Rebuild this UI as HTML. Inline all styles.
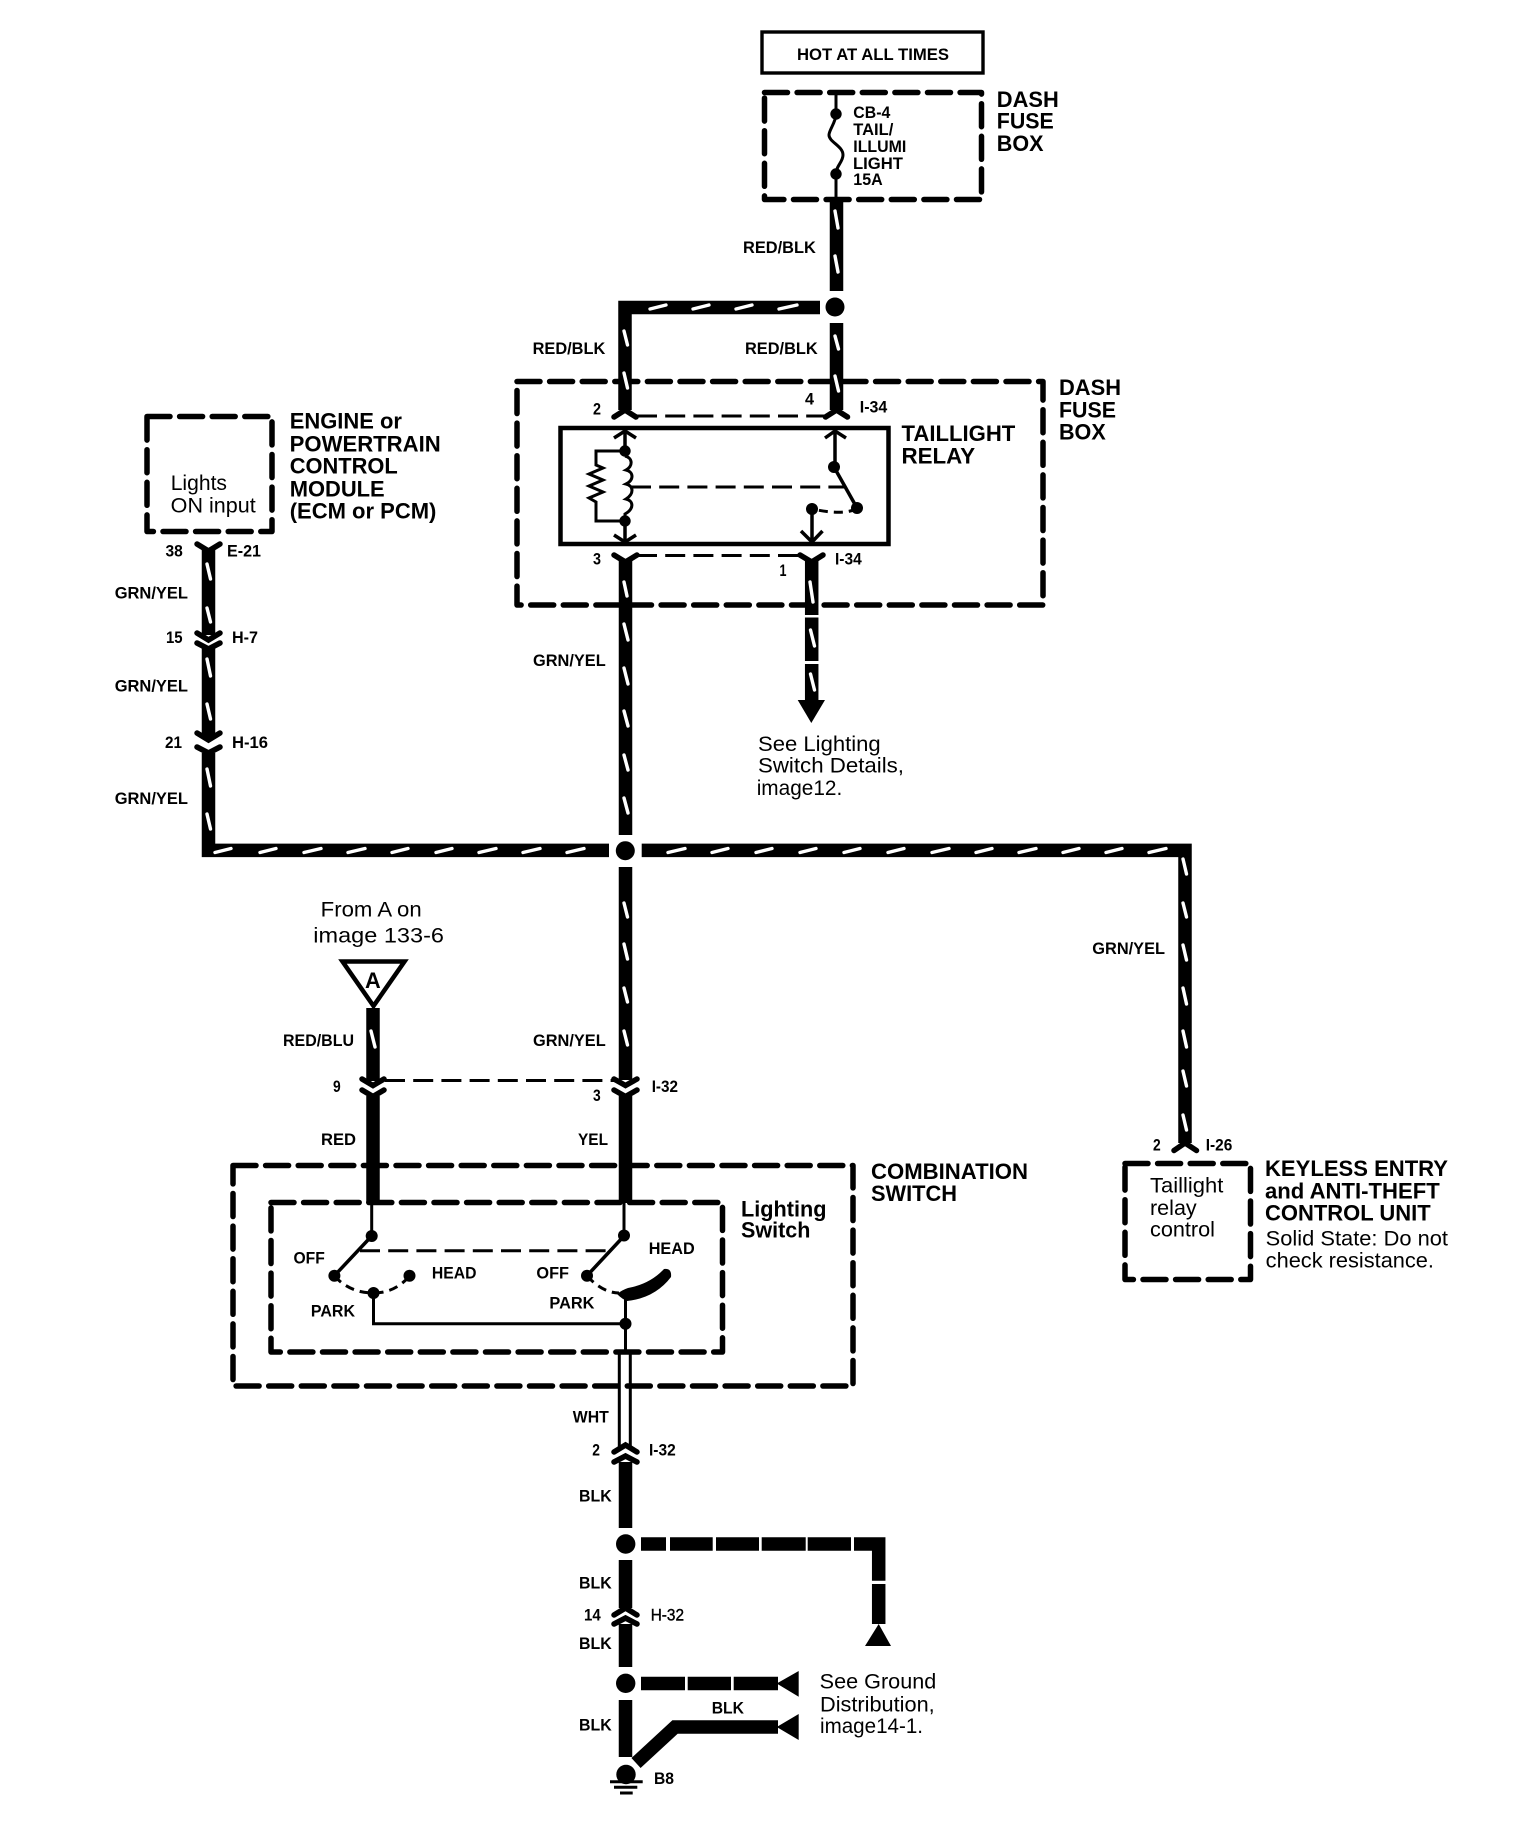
<!DOCTYPE html>
<html lang="en">
<head>
<meta charset="utf-8">
<title>Taillight Relay Diagram</title>
<style>
html,body{margin:0;padding:0;background:#fff;}
svg{display:block;}
text{font-family:"Liberation Sans",Arial,sans-serif;fill:#000;}
.b{font-weight:bold;font-size:22px;}
.s{font-weight:bold;font-size:16.5px;}
.r{font-size:21.5px;}
</style>
</head>
<body>
<svg xmlns="http://www.w3.org/2000/svg" width="1536" height="1828" viewBox="0 0 1536 1828">
<rect width="1536" height="1828" fill="#fff"/>

<!-- dashed boxes -->
<g fill="none" stroke="#000" stroke-width="5.5" stroke-linecap="round" stroke-linejoin="round" stroke-dasharray="23 9.6">
<path d="M764.5,92.5H981.5V199.5H764.5Z"/>
<path d="M517,381.5H1043V605H517Z"/>
<path d="M147,416.5H272V531.5H147Z"/>
<path d="M233,1165.5H853V1386H233Z"/>
<path d="M271,1202.5H722.5V1352H271Z"/>
<path d="M1125,1163.5H1250.5V1279.5H1125Z"/>
</g>

<!-- hot box + relay box -->
<rect x="762" y="32" width="221" height="41" fill="#fff" stroke="#000" stroke-width="3.4"/>
<rect x="560.5" y="428" width="328" height="116" fill="none" stroke="#000" stroke-width="4.5"/>

<!-- thin dashed connector shells and mechanical links -->
<g fill="none" stroke="#000" stroke-width="3" stroke-dasharray="20 8.2">
<path d="M637,416H826"/>
<path d="M637,555.5H800"/>
<path d="M631,487H844"/>
<path d="M385,1080.5H618"/>
<path d="M360,1250.7H612"/>
</g>

<!-- thick wires -->
<g fill="none" stroke="#000" stroke-width="13.5" stroke-linejoin="miter">
<path d="M836.5,200V291"/>
<path d="M820,307.5H625V410"/>
<path d="M836.5,323V410"/>
<path d="M625.5,560V835"/>
<path d="M625.5,867V1080"/>
<path d="M811.7,560V615M811.7,617.5V661M811.7,664V701"/>
<path d="M208.5,550V635"/>
<path d="M208.5,648V738"/>
<path d="M208.5,753V850.4H609"/>
<path d="M641.7,850.4H1185V1143"/>
<path d="M373,1008V1081"/>
<path d="M373,1096V1203"/>
<path d="M625.5,1096V1203"/>
<path d="M625.5,1462V1528"/>
<path d="M625.5,1560V1608"/>
<path d="M625.5,1624V1667"/>
<path d="M625.5,1700V1757"/>
<path d="M641,1544H666M670,1544H712.7M716,1544H759M761.7,1544H805.7M807.7,1544H851M854,1544H878.7V1580.7M878.7,1584V1624"/>
<path d="M641,1683.5H685M687.7,1683.5H731M733.7,1683.5H778"/>
<path d="M636,1763L675,1727H778"/>
</g>

<!-- white wire -->
<g fill="none" stroke="#000" stroke-width="3">
<path d="M619.3,1353V1448M630.3,1353V1448"/>
</g>

<!-- white tracer ticks -->
<g fill="none" stroke="#fff" stroke-width="3.4" stroke-linecap="round">
<path d="M835,211L838,228M835,256L838,272"/>
<path d="M650,309L666,305M693,309L709,305M736,309L752,305M779,309L797,305"/>
<path d="M624,331L627.5,345M624,373L627.5,388"/>
<path d="M835,336L838.5,349M835,376L838.5,391"/>
<path d="M624,582L627,596"/>
<path d="M624,624L628,640M624,668L628,684M624,711L628,726M624,755L628,770M624,798L628,813"/>
<path d="M810,582L813,602M810.5,630L814.5,646M810.5,674L814.5,690"/>
<path d="M207,564L210.5,579M207,608L210.5,622M207,659L210.5,676M207,704L210.5,719M207,769L210.5,786M207,814L210.5,829"/>
<path d="M215,852.5L231,848.5M260,852.5L276,848.5M304,852.5L321,848.5M348,852.5L365,848.5M392,852.5L408,848.5M436,852.5L452,848.5M479,852.5L496,848.5M523,852.5L540,848.5M567,852.5L584,848.5"/>
<path d="M668,852.5L685,848.5M712,852.5L728,848.5M756,852.5L772,848.5M800,852.5L816,848.5M844,852.5L860,848.5M888,852.5L904,848.5M932,852.5L949,848.5M976,852.5L992,848.5M1019,852.5L1036,848.5M1063,852.5L1079,848.5M1106,852.5L1122,848.5M1149,852.5L1166,848.5"/>
<path d="M1183,859L1186.5,874M1183,903L1186.5,917M1183,945L1186.5,960M1183,988L1186.5,1004M1183,1031L1186.5,1047M1183,1071L1186.5,1086M1183,1115L1186.5,1130"/>
<path d="M624,903L627.5,917M624,944L627.5,959M624,988L627.5,1002M624,1031L627.5,1045"/>
<path d="M371,1031L375,1047"/>
</g>

<!-- connectors: V and inverted V -->
<g fill="none" stroke="#000" stroke-width="5.5" stroke-linecap="round" stroke-linejoin="miter">
<path d="M614,417L625,410L636,417"/>
<path d="M825.5,417L836.5,410L847.5,417"/>
<path d="M614,555L625.5,562L637,555"/>
<path d="M800,555L811.7,562L823,555"/>
<path d="M197,544L208.5,551L220,544"/>
<path d="M197,633L208.5,640L220,633"/>
<path d="M197,643L208.5,649L220,643"/>
<path d="M197,733L208.5,740L220,733"/>
<path d="M197,747L208.5,753L220,747"/>
<path d="M362,1079L373,1085.5L384,1079"/>
<path d="M362,1090L373,1096.5L384,1090"/>
<path d="M614,1079L625.5,1085.5L637,1079"/>
<path d="M614,1090L625.5,1096.5L637,1090"/>
<path d="M614,1452L625.5,1445L637,1452"/>
<path d="M614,1462L625.5,1456L637,1462"/>
<path d="M614,1615L625.5,1608L637,1615"/>
<path d="M614,1624L625.5,1618L637,1624"/>
<path d="M1174,1150.5L1185,1143L1196.5,1150.5"/>
</g>

<!-- junction dots -->
<g fill="#000">
<circle cx="835" cy="307" r="9.5"/>
<circle cx="625.3" cy="850.7" r="9.5"/>
<circle cx="625.7" cy="1544" r="9.7"/>
<circle cx="625.7" cy="1683.3" r="9.7"/>
<circle cx="626" cy="1774.5" r="9.7"/>
<circle cx="836" cy="114" r="5.7"/>
<circle cx="836" cy="174" r="5.7"/>
<circle cx="625" cy="451" r="5.7"/>
<circle cx="625" cy="521" r="5.7"/>
<circle cx="834" cy="467" r="6"/>
<circle cx="857" cy="508" r="6"/>
<circle cx="812" cy="509" r="6"/>
<circle cx="371.7" cy="1236" r="6"/>
<circle cx="334.4" cy="1275.7" r="6"/>
<circle cx="409.5" cy="1275.7" r="6"/>
<circle cx="373.5" cy="1293" r="6"/>
<circle cx="624" cy="1235.5" r="6"/>
<circle cx="587" cy="1275.7" r="6"/>
<circle cx="625.5" cy="1323.7" r="6"/>
</g>

<!-- arrowheads -->
<g fill="#000">
<path d="M797.7,700H825L811.3,723Z"/>
<path d="M878.7,1624L891,1646H865Z"/>
<path d="M776.7,1683.5L798.7,1671V1696.7Z"/>
<path d="M776.7,1727L798.7,1714V1740Z"/>
</g>

<!-- thin wiring -->
<g fill="none" stroke="#000" stroke-width="3">
<path d="M836,90V114C836,122 829,130 829,135C829,142 843,146 843,155C843,162 836,166 836,174V202"/>
<path d="M625,456c8,2 8,10 1,14c8,2 8,10 0,14c8,2 8,10 0,15c8,2 8,10 -1,15V535"/>
<path d="M625,451H596V465L603,468L589,474L603,480L589,486L603,492L589,498L596,502V521H625"/>
<path d="M371.7,1203V1236M624,1203V1236"/>
<path d="M373.5,1293V1323.7H625.5M625.5,1297V1353"/>
</g>
<g fill="none" stroke="#000" stroke-width="3.5" stroke-linejoin="miter">
<path d="M625,431V451M625,521V542"/>
<path d="M614,438L625,431L636,438M614,535L625,542L636,535"/>
<path d="M835,431V467M825,438L835,431L846,438"/>
<path d="M812,509V542M801,531L812,542L822.5,531"/>
<path d="M834,467L857,508"/>
<path d="M371.7,1236L334.4,1275.7M624,1236L587,1275.7"/>
</g>
<g fill="none" stroke="#000" stroke-width="3" stroke-dasharray="9 6">
<path d="M857,508Q846,516 812,509"/>
<path d="M334.4,1276Q350,1293 373.5,1293Q395,1293 409.5,1276"/>
<path d="M587,1276Q603,1293 619,1293"/>
</g>
<path d="M617,1294Q622,1290 628,1288Q650,1284 664,1269Q672,1268 671,1277Q655,1298 627,1301Q622,1299 617,1294Z" fill="#000"/>

<!-- off-page triangle -->
<path d="M342.5,961.5H404.5L373.5,1006Z" fill="#fff" stroke="#000" stroke-width="4.5" stroke-linejoin="miter"/>
<!-- ground -->
<path d="M610,1781.7H642.7M614,1787.2H637.3M620,1793H632.7" fill="none" stroke="#000" stroke-width="3"/>

<g transform="translate(-1,0)">
<text x="366" y="988" class="b" textLength="15.7" lengthAdjust="spacingAndGlyphs">A</text>
<!-- large bold labels -->
<text x="798" y="60" class="s" textLength="152" lengthAdjust="spacingAndGlyphs">HOT AT ALL TIMES</text>
<text x="997.8" y="106.8" class="b" textLength="62" lengthAdjust="spacingAndGlyphs">DASH</text>
<text x="997.8" y="128.5" class="b" textLength="57" lengthAdjust="spacingAndGlyphs">FUSE</text>
<text x="997.8" y="151" class="b" textLength="46.7" lengthAdjust="spacingAndGlyphs">BOX</text>
<text x="1060" y="395" class="b" textLength="62" lengthAdjust="spacingAndGlyphs">DASH</text>
<text x="1060" y="417.5" class="b" textLength="57" lengthAdjust="spacingAndGlyphs">FUSE</text>
<text x="1060" y="439.7" class="b" textLength="46.7" lengthAdjust="spacingAndGlyphs">BOX</text>
<text x="902.5" y="441" class="b" textLength="113.8" lengthAdjust="spacingAndGlyphs">TAILLIGHT</text>
<text x="902.5" y="463.4" class="b" textLength="73.6" lengthAdjust="spacingAndGlyphs">RELAY</text>
<text x="290.7" y="428.7" class="b" textLength="112.3" lengthAdjust="spacingAndGlyphs">ENGINE or</text>
<text x="290.7" y="451.7" class="b" textLength="151" lengthAdjust="spacingAndGlyphs">POWERTRAIN</text>
<text x="290.7" y="473.3" class="b" textLength="108" lengthAdjust="spacingAndGlyphs">CONTROL</text>
<text x="290.7" y="496.7" class="b" textLength="95" lengthAdjust="spacingAndGlyphs">MODULE</text>
<text x="290.7" y="518.3" class="b" textLength="146.7" lengthAdjust="spacingAndGlyphs">(ECM or PCM)</text>
<text x="872" y="1179" class="b" textLength="157" lengthAdjust="spacingAndGlyphs">COMBINATION</text>
<text x="872" y="1201" class="b" textLength="86" lengthAdjust="spacingAndGlyphs">SWITCH</text>
<text x="742" y="1216.7" class="b" textLength="85.5" lengthAdjust="spacingAndGlyphs">Lighting</text>
<text x="742" y="1237.7" class="b" textLength="69.4" lengthAdjust="spacingAndGlyphs">Switch</text>
<text x="1266" y="1176" class="b" textLength="183" lengthAdjust="spacingAndGlyphs">KEYLESS ENTRY</text>
<text x="1266" y="1198.3" class="b" textLength="174.7" lengthAdjust="spacingAndGlyphs">and ANTI-THEFT</text>
<text x="1266" y="1220.7" class="b" textLength="165.7" lengthAdjust="spacingAndGlyphs">CONTROL UNIT</text>

<!-- regular labels -->
<text x="1266.7" y="1245.5" class="r" textLength="182.3" lengthAdjust="spacingAndGlyphs">Solid State: Do not</text>
<text x="1266.7" y="1267.5" class="r" textLength="168.3" lengthAdjust="spacingAndGlyphs">check resistance.</text>
<text x="171.7" y="490" class="r" textLength="56.3" lengthAdjust="spacingAndGlyphs">Lights</text>
<text x="171.7" y="512.7" class="r" textLength="85" lengthAdjust="spacingAndGlyphs">ON input</text>
<text x="759" y="751" class="r" textLength="122.7" lengthAdjust="spacingAndGlyphs">See Lighting</text>
<text x="759" y="772.7" class="r" textLength="146" lengthAdjust="spacingAndGlyphs">Switch Details,</text>
<text x="757.7" y="795" class="r" textLength="85.6" lengthAdjust="spacingAndGlyphs">image12.</text>
<text x="321.7" y="916.7" class="r" textLength="101" lengthAdjust="spacingAndGlyphs">From A on</text>
<text x="314.3" y="942.3" class="r" textLength="130.7" lengthAdjust="spacingAndGlyphs">image 133-6</text>
<text x="1151" y="1192.3" class="r" textLength="73.3" lengthAdjust="spacingAndGlyphs">Taillight</text>
<text x="1151" y="1215" class="r" textLength="46.7" lengthAdjust="spacingAndGlyphs">relay</text>
<text x="1151" y="1236.7" class="r" textLength="65" lengthAdjust="spacingAndGlyphs">control</text>
<text x="820.7" y="1688.7" class="r" textLength="116.6" lengthAdjust="spacingAndGlyphs">See Ground</text>
<text x="821" y="1711.7" class="r" textLength="114.7" lengthAdjust="spacingAndGlyphs">Distribution,</text>
<text x="821" y="1733" class="r" textLength="103" lengthAdjust="spacingAndGlyphs">image14-1.</text>

<!-- fuse text -->
<text x="854.3" y="117.8" class="s" textLength="37" lengthAdjust="spacingAndGlyphs">CB-4</text>
<text x="854.3" y="135" class="s" textLength="40" lengthAdjust="spacingAndGlyphs">TAIL/</text>
<text x="854.3" y="152" class="s" textLength="53" lengthAdjust="spacingAndGlyphs">ILLUMI</text>
<text x="854" y="169" class="s" textLength="50" lengthAdjust="spacingAndGlyphs">LIGHT</text>
<text x="854.3" y="185" class="s" textLength="29.4" lengthAdjust="spacingAndGlyphs">15A</text>

<!-- wire labels -->
<text x="744" y="253" class="s" textLength="72.8" lengthAdjust="spacingAndGlyphs">RED/BLK</text>
<text x="533.6" y="354" class="s" textLength="72.7" lengthAdjust="spacingAndGlyphs">RED/BLK</text>
<text x="746" y="354" class="s" textLength="72.7" lengthAdjust="spacingAndGlyphs">RED/BLK</text>
<text x="594" y="414.4" class="s" textLength="8" lengthAdjust="spacingAndGlyphs">2</text>
<text x="806" y="404.5" class="s" textLength="9" lengthAdjust="spacingAndGlyphs">4</text>
<text x="860.8" y="412.4" class="s" textLength="27.5" lengthAdjust="spacingAndGlyphs">I-34</text>
<text x="594" y="564.6" class="s" textLength="8" lengthAdjust="spacingAndGlyphs">3</text>
<text x="780.5" y="576" class="s" textLength="7" lengthAdjust="spacingAndGlyphs">1</text>
<text x="836" y="564.6" class="s" textLength="26.7" lengthAdjust="spacingAndGlyphs">I-34</text>
<text x="534" y="666" class="s" textLength="72.7" lengthAdjust="spacingAndGlyphs">GRN/YEL</text>
<text x="166.5" y="556.7" class="s" textLength="17.3" lengthAdjust="spacingAndGlyphs">38</text>
<text x="228" y="556.7" class="s" textLength="34" lengthAdjust="spacingAndGlyphs">E-21</text>
<text x="115.7" y="598.3" class="s" textLength="73.3" lengthAdjust="spacingAndGlyphs">GRN/YEL</text>
<text x="167" y="643" class="s" textLength="16.6" lengthAdjust="spacingAndGlyphs">15</text>
<text x="233" y="643" class="s" textLength="26" lengthAdjust="spacingAndGlyphs">H-7</text>
<text x="115.7" y="691.7" class="s" textLength="73.3" lengthAdjust="spacingAndGlyphs">GRN/YEL</text>
<text x="166" y="748" class="s" textLength="17" lengthAdjust="spacingAndGlyphs">21</text>
<text x="233" y="748" class="s" textLength="36" lengthAdjust="spacingAndGlyphs">H-16</text>
<text x="115.7" y="804" class="s" textLength="73.3" lengthAdjust="spacingAndGlyphs">GRN/YEL</text>
<text x="1093.3" y="954" class="s" textLength="72.7" lengthAdjust="spacingAndGlyphs">GRN/YEL</text>
<text x="284" y="1046" class="s" textLength="71" lengthAdjust="spacingAndGlyphs">RED/BLU</text>
<text x="534" y="1046" class="s" textLength="72.7" lengthAdjust="spacingAndGlyphs">GRN/YEL</text>
<text x="334" y="1092" class="s" textLength="7.7" lengthAdjust="spacingAndGlyphs">9</text>
<text x="594" y="1101" class="s" textLength="7.7" lengthAdjust="spacingAndGlyphs">3</text>
<text x="652.7" y="1092" class="s" textLength="26.3" lengthAdjust="spacingAndGlyphs">I-32</text>
<text x="322" y="1145" class="s" textLength="35" lengthAdjust="spacingAndGlyphs">RED</text>
<text x="579" y="1145" class="s" textLength="30" lengthAdjust="spacingAndGlyphs">YEL</text>
<text x="1154" y="1150.7" class="s" textLength="7.7" lengthAdjust="spacingAndGlyphs">2</text>
<text x="1206.7" y="1150.7" class="s" textLength="26.6" lengthAdjust="spacingAndGlyphs">I-26</text>
<text x="294.5" y="1263.3" class="s" textLength="31.3" lengthAdjust="spacingAndGlyphs">OFF</text>
<text x="432.9" y="1278.3" class="s" textLength="44.6" lengthAdjust="spacingAndGlyphs">HEAD</text>
<text x="311.9" y="1316.7" class="s" textLength="44.1" lengthAdjust="spacingAndGlyphs">PARK</text>
<text x="537.4" y="1278.3" class="s" textLength="32.6" lengthAdjust="spacingAndGlyphs">OFF</text>
<text x="649.7" y="1254" class="s" textLength="46" lengthAdjust="spacingAndGlyphs">HEAD</text>
<text x="550.4" y="1308.3" class="s" textLength="45.1" lengthAdjust="spacingAndGlyphs">PARK</text>
<text x="573.8" y="1422.5" class="s" textLength="36" lengthAdjust="spacingAndGlyphs">WHT</text>
<text x="593.3" y="1455.7" class="s" textLength="7.7" lengthAdjust="spacingAndGlyphs">2</text>
<text x="650" y="1455.7" class="s" textLength="26.7" lengthAdjust="spacingAndGlyphs">I-32</text>
<text x="580" y="1501.7" class="s" textLength="32.7" lengthAdjust="spacingAndGlyphs">BLK</text>
<text x="580" y="1588.3" class="s" textLength="32.7" lengthAdjust="spacingAndGlyphs">BLK</text>
<text x="585" y="1620.7" class="s" textLength="16.7" lengthAdjust="spacingAndGlyphs">14</text>
<text x="651.7" y="1620.7" class="s" textLength="33.3" lengthAdjust="spacingAndGlyphs" stroke="#000" stroke-width="0.4" style="font-weight:normal">H-32</text>
<text x="580" y="1649" class="s" textLength="32.7" lengthAdjust="spacingAndGlyphs">BLK</text>
<text x="580" y="1730.7" class="s" textLength="32.7" lengthAdjust="spacingAndGlyphs">BLK</text>
<text x="712.7" y="1713.3" class="s" textLength="32.3" lengthAdjust="spacingAndGlyphs">BLK</text>
<text x="655" y="1784" class="s" textLength="20" lengthAdjust="spacingAndGlyphs">B8</text>
</g>
</svg>
</body>
</html>
